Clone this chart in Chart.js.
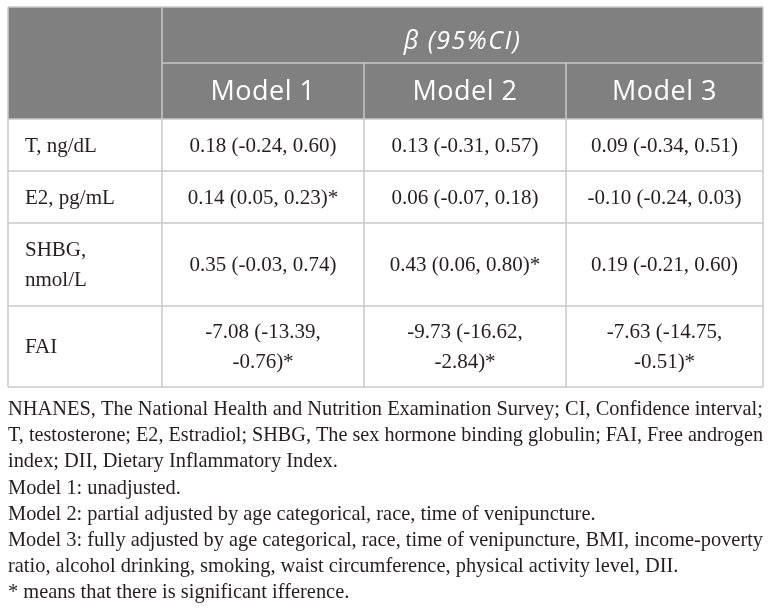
<!DOCTYPE html>
<html>
<head>
<meta charset="utf-8">
<script src="https://cdn.jsdelivr.net/npm/chart.js@4/dist/chart.umd.min.js"></script>
<style>
  html, body { margin: 0; padding: 0; background: #fff; }
  canvas { display: block; }
</style>
</head>
<body>
<canvas id="table" width="772" height="614"></canvas>
<script>
(function () {
  'use strict';

  // --- table content ---
  const GROUP_TITLE = 'β (95%CI)';
  const MODEL_NAMES = ['Model 1', 'Model 2', 'Model 3'];
  const ROW_LABELS  = [['T, ng/dL'], ['E2, pg/mL'], ['SHBG,', 'nmol/L'], ['FAI']];
  const MODEL_1 = [['0.18 (-0.24, 0.60)'], ['0.14 (0.05, 0.23)*'], ['0.35 (-0.03, 0.74)'], ['-7.08 (-13.39,', '-0.76)*']];
  const MODEL_2 = [['0.13 (-0.31, 0.57)'], ['0.06 (-0.07, 0.18)'], ['0.43 (0.06, 0.80)*'], ['-9.73 (-16.62,', '-2.84)*']];
  const MODEL_3 = [['0.09 (-0.34, 0.51)'], ['-0.10 (-0.24, 0.03)'], ['0.19 (-0.21, 0.60)'], ['-7.63 (-14.75,', '-0.51)*']];
  const NOTES = [
    'NHANES, The National Health and Nutrition Examination Survey; CI, Confidence interval;',
    'T, testosterone; E2, Estradiol; SHBG, The sex hormone binding globulin; FAI, Free androgen',
    'index; DII, Dietary Inflammatory Index.',
    'Model 1: unadjusted.',
    'Model 2: partial adjusted by age categorical, race, time of venipuncture.',
    'Model 3: fully adjusted by age categorical, race, time of venipuncture, BMI, income-poverty',
    'ratio, alcohol drinking, smoking, waist circumference, physical activity level, DII.',
    '* means that there is significant ifference.',
  ];

  // --- layout (in scale units) ---
  const COL_EDGES = [8, 162, 364, 566, 763];
  const ROW_EDGES = [7, 63, 119, 171, 223, 306, 387];
  const NOTE_TOP  = 415;
  const NOTE_STEP = 26.2;

  const HEAD_BG   = '#808080';
  const LINE      = '#c9c9c9';
  const INK       = '#231f20';
  const SANS      = '"Open Sans", sans-serif';
  const SERIF     = '"Liberation Serif", serif';

  const tablePlugin = {
    id: 'tableDraw',
    afterDraw(chart) {
      const ctx = chart.ctx;
      const xs = chart.scales.x, ys = chart.scales.y;
      const X = v => xs.getPixelForValue(v);
      const Y = v => ys.getPixelForValue(v);
      const cx = COL_EDGES.map(X), ry = ROW_EDGES.map(Y);

      ctx.save();
      // header fill
      ctx.fillStyle = HEAD_BG;
      ctx.fillRect(cx[0], ry[0], cx[4] - cx[0], ry[2] - ry[0]);

      // grid lines
      ctx.strokeStyle = LINE;
      ctx.lineWidth = 1.5;
      const hline = (y, x0, x1) => { ctx.beginPath(); ctx.moveTo(x0, y); ctx.lineTo(x1, y); ctx.stroke(); };
      const vline = (x, y0, y1) => { ctx.beginPath(); ctx.moveTo(x, y0); ctx.lineTo(x, y1); ctx.stroke(); };
      hline(ry[0], cx[0], cx[4]);
      hline(ry[1], cx[1], cx[4]);
      for (let r = 2; r < ry.length; r++) hline(ry[r], cx[0], cx[4]);
      vline(cx[0], ry[0], ry[6]);
      vline(cx[1], ry[0], ry[6]);
      vline(cx[2], ry[1], ry[6]);
      vline(cx[3], ry[1], ry[6]);
      vline(cx[4], ry[0], ry[6]);

      // header text
      ctx.fillStyle = '#ffffff';
      ctx.textAlign = 'center';
      ctx.textBaseline = 'middle';
      ctx.font = 'italic 25px ' + SANS;
      ctx.letterSpacing = '1.5px';
      ctx.fillText(GROUP_TITLE, (cx[1] + cx[4]) / 2, (ry[0] + ry[1]) / 2 + 7);
      ctx.font = '27px ' + SANS;
      ctx.letterSpacing = '0.5px';
      MODEL_NAMES.forEach((m, i) => {
        ctx.fillText(m, (cx[i + 1] + cx[i + 2]) / 2, (ry[1] + ry[2]) / 2 + 1);
      });
      ctx.letterSpacing = '0px';

      // body cells
      ctx.fillStyle = INK;
      ctx.font = '21px ' + SERIF;
      const lineH = 29.5;
      const drawLines = (lines, x, yMid, align) => {
        ctx.textAlign = align;
        const y0 = yMid - (lines.length - 1) * lineH / 2;
        lines.forEach((t, k) => ctx.fillText(t, x, y0 + k * lineH));
      };
      const cols = [MODEL_1, MODEL_2, MODEL_3];
      ROW_LABELS.forEach((lab, r) => {
        const yMid = (ry[r + 2] + ry[r + 3]) / 2 + 1;
        drawLines(lab, cx[0] + 17, yMid, 'left');
        cols.forEach((col, c) => {
          drawLines(col[r], (cx[c + 1] + cx[c + 2]) / 2, yMid, 'center');
        });
      });

      // footnotes: size the serif so the first (full) line fills the table width
      ctx.textAlign = 'left';
      ctx.textBaseline = 'alphabetic';
      ctx.font = '20px ' + SERIF;
      const span = cx[4] - cx[0];
      const size = 20 * span / ctx.measureText(NOTES[0]).width;
      ctx.font = size.toFixed(2) + 'px ' + SERIF;
      NOTES.forEach((t, i) => ctx.fillText(t, X(8), Y(NOTE_TOP + i * NOTE_STEP), span));
      ctx.restore();
    },
  };

  new Chart(document.getElementById('table'), {
    type: 'scatter',
    data: { datasets: [] },
    options: {
      responsive: false,
      animation: false,
      devicePixelRatio: 1,
      layout: { padding: 0 },
      scales: {
        x: { type: 'linear', min: 0, max: 772, display: false },
        y: { type: 'linear', min: 0, max: 614, reverse: true, display: false },
      },
      plugins: { legend: { display: false }, tooltip: { enabled: false } },
    },
    plugins: [tablePlugin],
  });
})();
</script>
</body>
</html>
